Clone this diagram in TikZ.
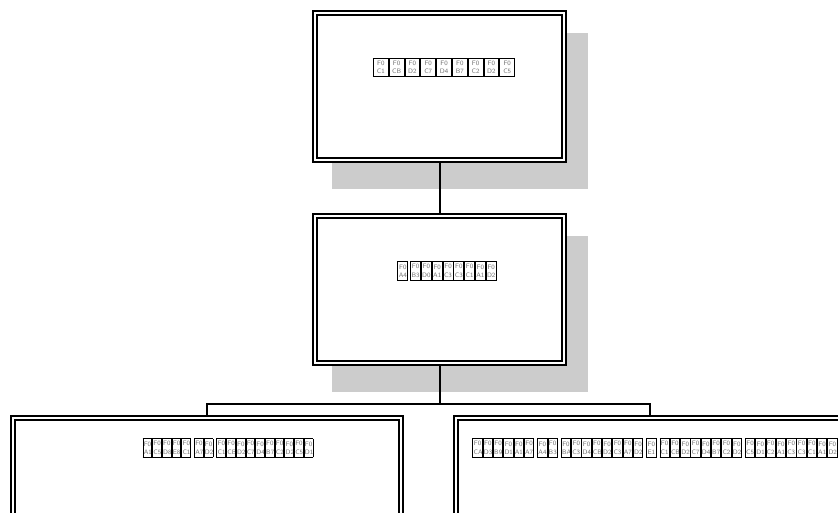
\documentclass[tikz,border=0pt]{standalone}
\usepackage{xcolor}
\usepackage{tikz}
\usetikzlibrary{positioning,calc,backgrounds}

\setlength\fboxsep{0.3pt}
\setlength\fboxrule{0.9pt}
\newlength\tofuwd
\newcommand\tofu[1]{\fbox{\parbox[c][17pt][c]{\tofuwd}{\centering\color{black!55}F0\\[1.5pt]#1}}}
\newcommand\tofus[2][8]{\setlength\tofuwd{#1pt}\foreach \g in {#2}{\tofu{\g}}}

\tikzset{
  orgbox/.style={draw, line width=2pt, double, double distance=1.4pt, fill=white,
    minimum width=249pt, minimum height=147pt, inner sep=0pt},
  boxshadow/.style={fill=black!20},
  link/.style={line width=2pt},
  tofutext/.style={inner sep=0pt, font=\sffamily\fontsize{6.5}{7}\selectfont}
}

\begin{document}
\begin{tikzpicture}[x=1pt,y=-1pt]
  \useasboundingbox (0,0) rectangle (838,512);
  \clip (0,0) rectangle (838,512);
  \node[orgbox] (headbox) at (439.5,86.5) {};
  \node[orgbox] (subbox) at (439.5,289.5) {};
  \node[orgbox, minimum width=388pt] (leftbox) at (207,491.5) {};
  \node[orgbox, minimum width=388pt] (rightbox) at (650,491.5) {};
  \begin{scope}[on background layer]
    \foreach \bx in {headbox,subbox}
      \fill[boxshadow] ($(\bx.north west)+(18,21)$) rectangle ($(\bx.south east)+(23,28)$);
  \end{scope}
  \draw[link] (headbox) -- (subbox);
  \draw[link] (subbox.south) -- ++(0,40) coordinate (fork) -| (leftbox.north);
  \draw[link] (fork) -| (rightbox.north);
  % labels
  \node[tofutext] (headtext) at (444,67.5) {\tofus[13.4]{C1,CB,D2,C7,D4,B7,C2,D2,C5}};
  \node[tofutext] (subtext) at (447,271) {\tofus[8.4]{A4}\hspace{2pt}\tofus[8.4]{B3,D0,A1,C3,C3,C1,A1,D2}};
  \node[tofutext] (lefttext) at (228,448) {\tofus[7.3]{A1,C5,D8,E8,C1}\hspace{3pt}\tofus[7.3]{A7,D2}\hspace{3pt}\tofus[7.3]{C1,CB,D2,C7,D4,B7,C2,D2,C5,D1}};
  \node[tofutext] (righttext) at (655,448) {\tofus[7.9]{CA,D3,B9,D1,A1,A7}\hspace{3pt}\tofus[7.9]{A4,B3}\hspace{3pt}\tofus[7.9]{BA,C3,D4,CB,D2,C3,A7,D2}\hspace{3pt}\tofus[7.9]{E1}\hspace{3pt}\tofus[7.9]{C1,CB,D2,C7,D4,B7,C2,D2}\hspace{3pt}\tofus[7.9]{C5,D1,C2,A1,C3,C3,C1,A1,D2}};
\end{tikzpicture}
\end{document}
